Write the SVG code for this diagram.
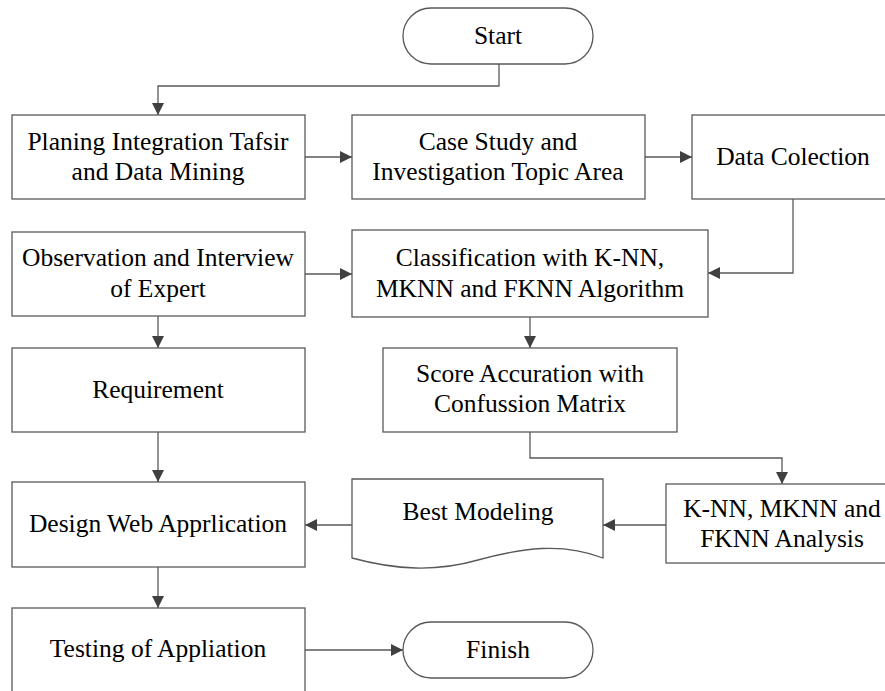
<svg xmlns="http://www.w3.org/2000/svg" width="885" height="691" viewBox="0 0 885 691">
<defs>
<marker id="arr" markerUnits="userSpaceOnUse" markerWidth="14" markerHeight="14" viewBox="0 0 14 14" refX="12" refY="7" orient="auto">
<path d="M0,1 L12,7 L0,13 Z" fill="#404040"/>
</marker>
<style>
.box{fill:#fff;stroke:#595959;stroke-width:1.3}
.t{font-family:'Liberation Serif','Times New Roman','DejaVu Serif',serif;font-size:25.5px;fill:#000;text-anchor:middle}
.c{fill:none;stroke:#595959;stroke-width:1.3;marker-end:url(#arr)}
</style>
</defs>
<rect width="885" height="691" fill="#fff"/>
<g id="connectors">
<path class="c" d="M499,64 V86 H158 V115"/>
<path class="c" d="M305,157 H352"/>
<path class="c" d="M645,157 H692"/>
<path class="c" d="M793,199 V273 H708"/>
<path class="c" d="M305,274 H352"/>
<path class="c" d="M158,316 V348"/>
<path class="c" d="M530,317 V348"/>
<path class="c" d="M530,432 V458 H782 V484"/>
<path class="c" d="M666,525 H603"/>
<path class="c" d="M352,525 H305"/>
<path class="c" d="M158,432 V482"/>
<path class="c" d="M158,567 V608"/>
<path class="c" d="M305,650 H403"/>
</g>
<g id="start">
<rect class="box" x="403" y="8" width="190" height="56" rx="28" ry="28"/>
<text class="t" x="498" y="44">Start</text>
</g>
<g id="planing">
<rect class="box" x="12" y="115" width="293" height="84"/>
<text class="t" x="158" y="150">Planing Integration Tafsir</text>
<text class="t" x="158" y="180">and Data Mining</text>
</g>
<g id="casestudy">
<rect class="box" x="352" y="115" width="293" height="84"/>
<text class="t" x="498" y="150">Case Study and</text>
<text class="t" x="498" y="180">Investigation Topic Area</text>
</g>
<g id="datacolection">
<rect class="box" x="692" y="115" width="203" height="84"/>
<text class="t" x="793" y="165">Data Colection</text>
</g>
<g id="observation">
<rect class="box" x="12" y="232" width="293" height="84"/>
<text class="t" x="158" y="266">Observation and Interview</text>
<text class="t" x="158" y="297">of Expert</text>
</g>
<g id="classification">
<rect class="box" x="352" y="230" width="356" height="87"/>
<text class="t" x="530" y="266">Classification with K-NN,</text>
<text class="t" x="530" y="297">MKNN and FKNN Algorithm</text>
</g>
<g id="requirement">
<rect class="box" x="12" y="348" width="293" height="84"/>
<text class="t" x="158" y="398">Requirement</text>
</g>
<g id="score">
<rect class="box" x="383" y="348" width="294" height="84"/>
<text class="t" x="530" y="382">Score Accuration with</text>
<text class="t" x="530" y="412">Confussion Matrix</text>
</g>
<g id="analysis">
<rect class="box" x="666" y="484" width="232" height="79"/>
<text class="t" x="782" y="517">K-NN, MKNN and</text>
<text class="t" x="782" y="547">FKNN Analysis</text>
</g>
<g id="bestmodeling">
<path class="box" d="M352,479 H603 V558 C562,542 522,548 478,560 C436,572 396,570 352,558 Z"/>
<text class="t" x="478" y="520">Best Modeling</text>
</g>
<g id="design">
<rect class="box" x="12" y="482" width="293" height="85"/>
<text class="t" x="158" y="532">Design Web Apprlication</text>
</g>
<g id="testing">
<rect class="box" x="12" y="608" width="293" height="90"/>
<text class="t" x="158" y="657">Testing of Appliation</text>
</g>
<g id="finish">
<rect class="box" x="403" y="622" width="190" height="56" rx="28" ry="28"/>
<text class="t" x="498" y="658">Finish</text>
</g>
</svg>
